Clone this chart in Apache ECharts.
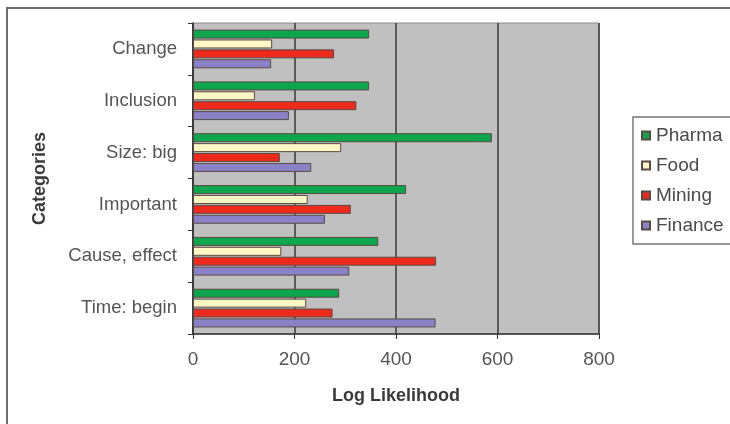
<!DOCTYPE html>
<html>
<head>
<meta charset="utf-8">
<script src="https://cdn.jsdelivr.net/npm/echarts@6/dist/echarts.min.js"></script>
<style>html,body{margin:0;padding:0;background:#fff;}#c{width:730px;height:424px;}</style>
</head>
<body>
<div id="c"></div>
<script>
const categories = ['Change', 'Inclusion', 'Size: big', 'Important', 'Cause, effect', 'Time: begin'];
const pharma  = [347, 347, 589, 420, 365, 288];
const food    = [156, 122, 292, 226, 174, 223];
const mining  = [278, 322, 171, 311, 479, 275];
const finance = [154, 189, 233, 260, 308, 478];
const xTicks = [0, 200, 400, 600, 800];

const FONT = '"Liberation Sans", Arial, sans-serif';
const chart = echarts.init(document.getElementById('c'), null, {renderer: 'canvas'});
function mk(name, data, color) {
  return {
    name, type: 'bar', data,
    barWidth: 9, barGap: '10%',
    itemStyle: {color, borderColor: '#5a4a44', borderWidth: 1},
    emphasis: {disabled: true}
  };
}
chart.setOption({
  animation: false,
  backgroundColor: '#ffffff',
  textStyle: {fontFamily: FONT},
  graphic: [{
    type: 'rect', z: 100, silent: true,
    shape: {x: 7, y: 8, width: 800, height: 600},
    style: {fill: 'none', stroke: '#6e6e6e', lineWidth: 2}
  }],
  grid: {
    left: 193, top: 23, right: 131, bottom: 90,
    show: true, backgroundColor: '#c0c0c0', borderColor: '#8a8a8a', borderWidth: 1
  },
  legend: {
    orient: 'vertical', left: 633, top: 117,
    data: ['Pharma', 'Food', 'Mining', 'Finance'],
    icon: 'rect', itemWidth: 8, itemHeight: 8, itemGap: 11,
    padding: [9, 20, 9, 8],
    borderColor: '#777', borderWidth: 1.5,
    textStyle: {fontFamily: FONT, fontSize: 19, color: '#4a4a4a', padding: [0, 0, 0, 1]}
  },
  xAxis: {
    type: 'value', min: xTicks[0], max: xTicks[xTicks.length - 1], interval: 200,
    name: 'Log Likelihood', nameLocation: 'middle', nameGap: 53,
    nameTextStyle: {fontFamily: FONT, fontSize: 18, fontWeight: 'bold', color: '#3a3a3a'},
    axisLine: {show: true, lineStyle: {color: '#333', width: 1.5}},
    axisTick: {show: true, length: 5, lineStyle: {color: '#333'}},
    axisLabel: {fontFamily: FONT, fontSize: 19, color: '#555', margin: 16}
  },
  yAxis: {
    type: 'category', data: categories, inverse: true,
    name: 'Categories', nameLocation: 'middle', nameGap: 144, nameRotate: 90,
    nameTextStyle: {fontFamily: FONT, fontSize: 18, fontWeight: 'bold', color: '#3a3a3a'},
    axisLine: {show: true, lineStyle: {color: '#333', width: 1.5}},
    axisTick: {show: true, length: 5, lineStyle: {color: '#333'}},
    axisLabel: {fontFamily: FONT, fontSize: 18.5, color: '#555', margin: 16}
  },
  series: [
    mk('Pharma', pharma, '#0ea64c'),
    mk('Food', food, '#fff8c4'),
    mk('Mining', mining, '#ee2a1c'),
    mk('Finance', finance, '#8a82c6')
  ]
});
chart.setOption({xAxis: {splitLine: {show: true, lineStyle: {color: '#3a3a3a', width: 1.5}}}});
</script>
</body>
</html>
